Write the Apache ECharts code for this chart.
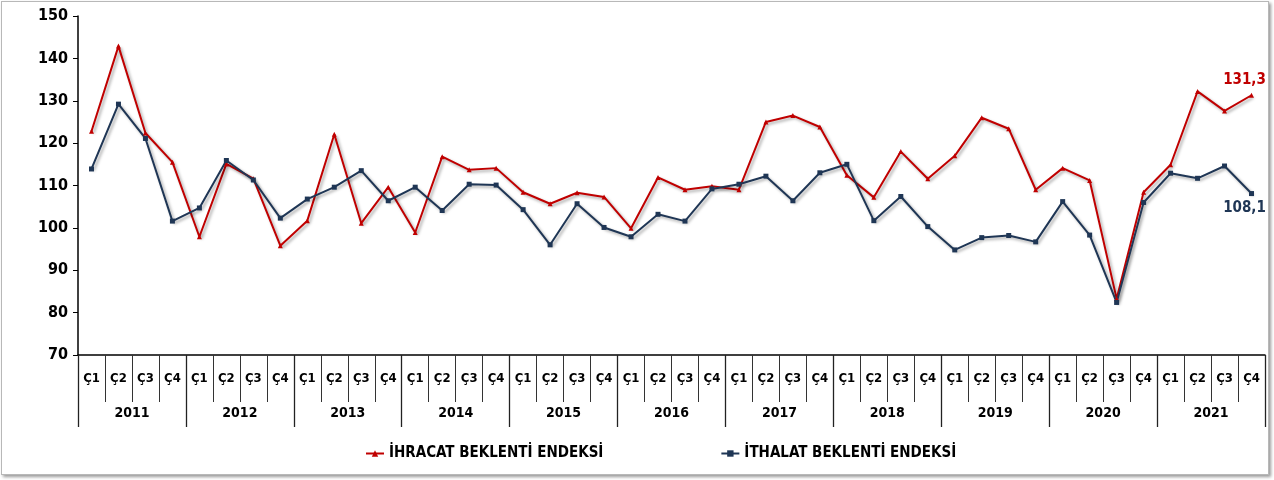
<!DOCTYPE html>
<html>
<head>
<meta charset="utf-8">
<script src="https://cdn.jsdelivr.net/npm/echarts@6/dist/echarts.min.js"></script>
<style>
  body { margin: 0; background: #fff; }
  #box { position: absolute; left: 1px; top: 1px; width: 1266px; height: 472px;
         border: 1px solid #b8b8b8; box-shadow: 2px 2px 3px #9a9a9a; background: #fff; }
  #chart { width: 1266px; height: 472px; }
</style>
</head>
<body>
<div id="box"><div id="chart"></div></div>
<script>
const years = ['2011', '2012', '2013', '2014', '2015', '2016', '2017', '2018', '2019', '2020', '2021']
const quarters = ['Ç1', 'Ç2', 'Ç3', 'Ç4']
const yTicks = { min: 70, max: 150, step: 10 }

// ihracat beklenti endeksi (kırmızı)
const ihracat = [
  122.8, 142.9, 122.4, 115.5,
  97.9, 115.1, 111.6, 95.8,
  101.7, 122.1, 101.1, 109.6,
  98.9, 116.8, 113.7, 114.1,
  108.4, 105.7, 108.3, 107.3,
  99.9, 111.9, 109.0, 109.8,
  109.0, 125.0, 126.5, 123.8,
  112.4, 107.2, 118.0, 111.6,
  117.0, 126.0, 123.4, 109.0,
  114.1, 111.2, 83.3, 108.4,
  114.9, 132.2, 127.6, 131.3
]
// ithalat beklenti endeksi (lacivert)
const ithalat = [
  113.9, 129.2, 121.1, 101.6,
  104.7, 115.9, 111.3, 102.3,
  106.8, 109.6, 113.5, 106.4,
  109.6, 104.1, 110.3, 110.1,
  104.3, 96.0, 105.7, 100.1,
  97.9, 103.2, 101.6, 109.2,
  110.3, 112.2, 106.4, 113.0,
  115.0, 101.7, 107.4, 100.3,
  94.8, 97.7, 98.2, 96.7,
  106.2, 98.3, 82.4, 106.0,
  112.9, 111.7, 114.6, 108.1
]

const quarterLabels = []
years.forEach(() => quarters.forEach(q => quarterLabels.push(q)))

const red = '#C00000'
const navy = '#1F3655'
const font = '"DejaVu Sans Condensed", "Open Sans", sans-serif'
const shadow = { shadowColor: 'rgba(0,0,0,0.35)', shadowBlur: 3, shadowOffsetX: 2, shadowOffsetY: 2 }

const lastLabel = (pos, color) => ({
  show: true,
  position: pos,
  offset: [-7, 0],
  formatter: p => String(p.value).replace('.', ','),
  color: color,
  fontFamily: font,
  fontWeight: 'bold',
  fontSize: 15
})

const withEndLabel = (arr, pos, color) => arr.map((v, i) =>
  i === arr.length - 1 ? { value: v, label: lastLabel(pos, color) } : v)

const chart = echarts.init(document.getElementById('chart'))
chart.setOption({
  animation: false,
  textStyle: { fontFamily: font },
  grid: { left: 76, right: 3, top: 14, bottom: 119 },
  legend: {
    bottom: 8,
    left: 358,
    itemGap: 117,
    itemWidth: 18,
    itemHeight: 8,
    textStyle: { fontFamily: font, fontWeight: 'bold', fontSize: 15, color: '#000' },
    data: ['İHRACAT BEKLENTİ ENDEKSİ', 'İTHALAT BEKLENTİ ENDEKSİ']
  },
  xAxis: [
    {
      type: 'category',
      data: quarterLabels,
      boundaryGap: true,
      axisLine: { show: true, lineStyle: { color: '#000', width: 1.5 } },
      axisTick: { show: true, interval: 0, alignWithLabel: false, length: 47, lineStyle: { color: '#333' } },
      axisLabel: { show: true, interval: 0, margin: 17, color: '#000', fontWeight: 'bold', fontSize: 13, fontFamily: font }
    },
    {
      type: 'category',
      data: years,
      position: 'bottom',
      boundaryGap: true,
      axisLine: { show: false },
      axisTick: { show: true, interval: 0, alignWithLabel: false, length: 72, lineStyle: { color: '#222', width: 1.3 } },
      axisLabel: { show: true, interval: 0, margin: 51, color: '#000', fontWeight: 'bold', fontSize: 14, fontFamily: font }
    }
  ],
  yAxis: {
    type: 'value',
    min: yTicks.min,
    max: yTicks.max,
    interval: yTicks.step,
    splitLine: { show: false },
    axisLine: { show: true, lineStyle: { color: '#000', width: 1.5 } },
    axisTick: { show: true, length: 5, lineStyle: { color: '#000' } },
    axisLabel: { color: '#000', fontWeight: 'bold', fontSize: 16, margin: 10, fontFamily: font }
  },
  series: [
    {
      name: 'İHRACAT BEKLENTİ ENDEKSİ',
      type: 'line',
      data: withEndLabel(ihracat, 'top', red),
      symbol: 'triangle',
      symbolSize: 5,
      color: red,
      lineStyle: Object.assign({ color: red, width: 2 }, shadow),
      itemStyle: { color: red }
    },
    {
      name: 'İTHALAT BEKLENTİ ENDEKSİ',
      type: 'line',
      data: withEndLabel(ithalat, 'bottom', navy),
      symbol: 'rect',
      symbolSize: 5,
      color: navy,
      lineStyle: Object.assign({ color: navy, width: 2 }, shadow),
      itemStyle: { color: navy }
    }
  ]
})
</script>
</body>
</html>
